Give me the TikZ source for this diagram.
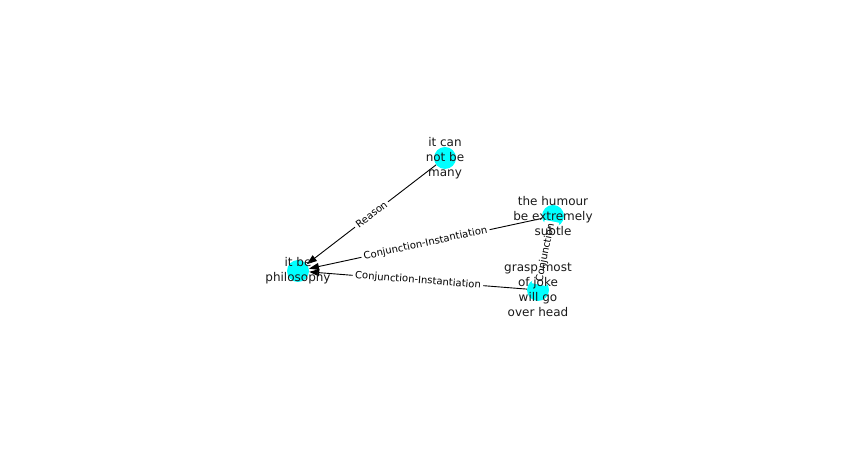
\documentclass[tikz,border=0pt]{standalone}
\usepackage{fontspec}
\setmainfont{DejaVu Sans}
\usetikzlibrary{arrows.meta}
\definecolor{nodecyan}{RGB}{0,255,255}

\begin{document}
\begin{tikzpicture}[x=1pt,y=1pt,
    vertex/.style={circle,fill=nodecyan,minimum size=22pt,inner sep=0pt},
    vtext/.style={align=center,font=\fontsize{12}{15}\selectfont,text=black!90},
    rel/.style={-{Triangle[length=10pt,width=7pt]},line width=0.9pt,black},
    rlabel/.style={fill=white,inner sep=2.5pt,font=\fontsize{10}{12}\selectfont,sloped,text=black}]
            \useasboundingbox (0,0) rectangle (851,449);
            \node[vertex] (many) at (445,291) {};
            \node[vertex] (humour) at (553,233) {};
            \node[vertex] (philo) at (298,178) {};
            \node[vertex] (grasp) at (538,159) {};
            \draw[rel] (many) -- node[rlabel] {Reason} (philo);
            \draw[rel] (humour) -- node[rlabel] {Conjunction-Instantiation} (philo);
            \draw[rel] (grasp) -- node[rlabel] {Conjunction-Instantiation} (philo);
            \draw[rel] (grasp) -- node[rlabel] {Conjunction} (humour);
            \node[vtext] (many-t) at (many) {it can\\not be\\many};
            \node[vtext] (humour-t) at (humour) {the humour\\be extremely\\subtle};
            \node[vtext] (philo-t) at (philo) {it be\\philosophy};
            \node[vtext] (grasp-t) at (grasp) {grasp most\\of joke\\will go\\over head};
        \end{tikzpicture}
\end{document}
